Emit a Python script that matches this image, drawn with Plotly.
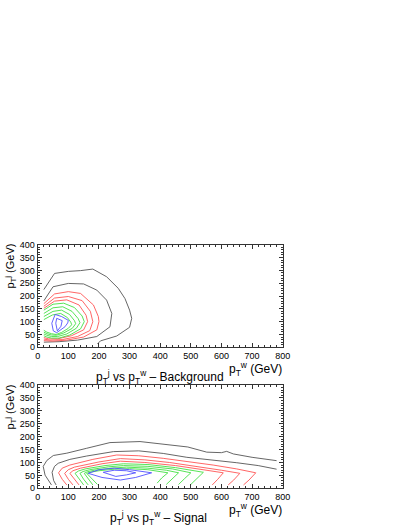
import plotly.graph_objects as go

# ---------------- axis ticks ----------------
x_tick_vals = [0, 100, 200, 300, 400, 500, 600, 700, 800]
y_tick_vals = [0, 50, 100, 150, 200, 250, 300, 350, 400]

# ---------------- Background: contour lines (pT_w [GeV], pT_j [GeV]) ----------------
bg_gray1_x = [20, 55, 100, 140, 180, 225, 263, 285, 300, 307, 300, 258, 205, 195]
bg_gray1_y = [225, 288, 296, 299, 305, 275, 230, 190, 145, 113, 78, 44, 25, 13]
bg_gray2_x = [20, 50, 100, 150, 193, 225, 242, 236, 193, 130, 70, 20]
bg_gray2_y = [181, 236, 249, 247, 223, 184, 132, 80, 42, 28, 22, 20]
bg_red1_x = [20, 55, 100, 140, 182, 198, 200, 193, 150, 95, 50, 20]
bg_red1_y = [170, 208, 217, 210, 165, 120, 100, 68, 40, 28, 24, 26]
bg_red2_x = [20, 55, 100, 145, 172, 180, 170, 130, 80, 40, 20]
bg_red2_y = [160, 192, 198, 182, 140, 100, 65, 42, 30, 28, 32]
bg_red3_x = [20, 55, 95, 135, 158, 163, 150, 110, 65, 35, 20]
bg_red3_y = [152, 180, 185, 165, 125, 100, 68, 45, 33, 33, 38]
bg_green1_x = [20, 50, 85, 120, 145, 152, 140, 105, 70, 45, 30, 20]
bg_green1_y = [145, 168, 172, 155, 122, 100, 72, 48, 36, 36, 40, 45]
bg_green2_x = [20, 50, 82, 112, 132, 138, 126, 95, 65, 45, 30, 20]
bg_green2_y = [132, 154, 158, 140, 112, 96, 74, 52, 42, 42, 47, 52]
bg_green3_x = [20, 50, 78, 104, 120, 124, 113, 85, 62, 45, 30, 20]
bg_green3_y = [120, 140, 145, 128, 104, 92, 74, 56, 47, 48, 53, 59]
bg_green4_x = [20, 48, 75, 97, 108, 111, 100, 78, 60, 45, 30, 20]
bg_green4_y = [108, 126, 132, 116, 98, 88, 74, 58, 50, 53, 59, 66]
bg_blue1_x = [57, 78, 100, 98, 89, 62, 51, 46, 57]
bg_blue1_y = [128, 120, 105, 95, 80, 57, 64, 94, 128]
bg_blue2_x = [62, 80, 76, 64, 59, 62]
bg_blue2_y = [113, 104, 82, 64, 94, 113]

# ---------------- Signal: contour lines (pT_w [GeV], pT_j [GeV]) ----------------
sg_gray1_x = [45, 38, 24, 18, 30, 51, 95, 160, 236, 334, 432, 490, 552, 600, 617, 639, 700, 780]
sg_gray1_y = [13, 25, 51, 85, 108, 127, 136, 155, 177, 181, 168, 160, 140, 138, 143, 133, 120, 107]
sg_gray2_x = [60, 52, 47, 55, 67, 105, 160, 247, 330, 410, 487, 570, 650, 720, 780]
sg_gray2_y = [13, 30, 62, 85, 97, 112, 125, 142, 145, 135, 120, 110, 99, 88, 74]
sg_red1_x = [95, 80, 68, 80, 105, 180, 258, 330, 410, 490, 573, 650, 712, 690, 672]
sg_red1_y = [13, 35, 60, 78, 90, 112, 129, 126, 116, 104, 90, 75, 60, 32, 13]
sg_red2_x = [115, 100, 88, 100, 120, 200, 270, 350, 430, 520, 600, 660, 640, 622]
sg_red2_y = [13, 35, 58, 72, 82, 102, 115, 110, 100, 85, 70, 58, 32, 13]
sg_red3_x = [135, 120, 105, 115, 140, 210, 270, 350, 450, 540, 606, 588, 570]
sg_red3_y = [13, 35, 58, 68, 78, 95, 105, 100, 88, 72, 60, 35, 13]
sg_green1_x = [150, 136, 122, 133, 155, 220, 280, 360, 450, 541, 520, 500]
sg_green1_y = [13, 35, 58, 67, 75, 88, 95, 92, 80, 62, 38, 15]
sg_green2_x = [165, 150, 138, 148, 170, 230, 280, 360, 440, 500, 480, 460]
sg_green2_y = [13, 35, 58, 65, 72, 83, 88, 85, 75, 60, 38, 15]
sg_green3_x = [180, 165, 152, 162, 185, 240, 290, 360, 420, 460, 440, 420]
sg_green3_y = [13, 35, 58, 64, 70, 78, 82, 78, 70, 60, 38, 15]
sg_green4_x = [195, 178, 160, 175, 200, 250, 300, 360, 425, 405, 390]
sg_green4_y = [15, 36, 58, 63, 68, 74, 76, 72, 60, 40, 20]
sg_blue1_x = [165, 200, 250, 300, 372, 320, 270, 210, 165]
sg_blue1_y = [58, 72, 78, 72, 60, 42, 32, 42, 58]
sg_blue2_x = [214, 250, 290, 320, 290, 255, 214]
sg_blue2_y = [62, 70, 68, 60, 52, 46, 62]

# ---------------- styles ----------------
colors = {"gray": "#555555", "red": "#ff5555", "green": "#44e044", "blue": "#5050ff"}

bg_lines = [
    (bg_gray1_x, bg_gray1_y, "gray"), (bg_gray2_x, bg_gray2_y, "gray"),
    (bg_red1_x, bg_red1_y, "red"), (bg_red2_x, bg_red2_y, "red"), (bg_red3_x, bg_red3_y, "red"),
    (bg_green1_x, bg_green1_y, "green"), (bg_green2_x, bg_green2_y, "green"),
    (bg_green3_x, bg_green3_y, "green"), (bg_green4_x, bg_green4_y, "green"),
    (bg_blue1_x, bg_blue1_y, "blue"), (bg_blue2_x, bg_blue2_y, "blue"),
]
sg_lines = [
    (sg_gray1_x, sg_gray1_y, "gray"), (sg_gray2_x, sg_gray2_y, "gray"),
    (sg_red1_x, sg_red1_y, "red"), (sg_red2_x, sg_red2_y, "red"), (sg_red3_x, sg_red3_y, "red"),
    (sg_green1_x, sg_green1_y, "green"), (sg_green2_x, sg_green2_y, "green"),
    (sg_green3_x, sg_green3_y, "green"), (sg_green4_x, sg_green4_y, "green"),
    (sg_blue1_x, sg_blue1_y, "blue"), (sg_blue2_x, sg_blue2_y, "blue"),
]

fig = go.Figure()
for xs, ys, c in bg_lines:
    fig.add_trace(go.Scatter(x=xs, y=ys, mode="lines", xaxis="x", yaxis="y",
                             line=dict(color=colors[c], width=0.9), showlegend=False,
                             hoverinfo="skip"))
for xs, ys, c in sg_lines:
    fig.add_trace(go.Scatter(x=xs, y=ys, mode="lines", xaxis="x2", yaxis="y2",
                             line=dict(color=colors[c], width=0.9), showlegend=False,
                             hoverinfo="skip"))

W, H = 407, 527
FONT = "Liberation Sans, Arial, Helvetica, sans-serif"
xl, xr = 37.7 / W, 282.7 / W
top_dom = [1 - 347.3 / H, 1 - 244.7 / H]
bot_dom = [1 - 488.3 / H, 1 - 385.0 / H]


def xaxis(dom, anchor):
    return dict(domain=dom, anchor=anchor, range=[0, 800], tickvals=x_tick_vals,
                ticks="inside", ticklen=4, tickwidth=1, tickcolor="#333",
                showline=True, linecolor="#333", linewidth=1, mirror="ticks",
                showgrid=False, zeroline=False, automargin=False,
                tickfont=dict(family=FONT, size=9, color="black"),
                minor=dict(dtick=20, ticks="inside", ticklen=2, tickcolor="#333", showgrid=False))


def yaxis(dom, anchor):
    return dict(domain=dom, anchor=anchor, range=[0, 400], tickvals=y_tick_vals,
                ticks="inside", ticklen=4, tickwidth=1, tickcolor="#333",
                showline=True, linecolor="#333", linewidth=1, mirror="ticks",
                showgrid=False, zeroline=False, automargin=False,
                tickfont=dict(family=FONT, size=9, color="black"),
                minor=dict(dtick=10, ticks="inside", ticklen=2, tickcolor="#333", showgrid=False))


fig.update_layout(
    width=W, height=H, autosize=False,
    margin=dict(l=0, r=0, t=0, b=0),
    paper_bgcolor="white", plot_bgcolor="white",
    xaxis=xaxis([xl, xr], "y"), yaxis=yaxis(top_dom, "x"),
    xaxis2=xaxis([xl, xr], "y2"), yaxis2=yaxis(bot_dom, "x2"),
)

pj = "p<sub>T</sub><sup>j</sup>"
pw = "p<sub>T</sub><sup>w</sup>"
f11 = dict(family=FONT, size=11, color="black")
f12 = dict(family=FONT, size=12, color="black")
anns = [
    # top panel
    dict(text=pj + " (GeV)", x=10 / W, y=1 - 242 / H, xanchor="center", yanchor="top", textangle=-90, font=f11),
    dict(text=pw + " (GeV)", x=284 / W, y=1 - 380 / H, xanchor="right", yanchor="bottom", font=f12),
    dict(text=pj + " vs " + pw + " \u2013 Background", x=160 / W, y=1 - 377 / H, xanchor="center", yanchor="middle", font=f12),
    # bottom panel
    dict(text=pj + " (GeV)", x=10 / W, y=1 - 383 / H, xanchor="center", yanchor="top", textangle=-90, font=f11),
    dict(text=pw + " (GeV)", x=284 / W, y=1 - 521 / H, xanchor="right", yanchor="bottom", font=f12),
    dict(text=pj + " vs " + pw + " \u2013 Signal", x=158 / W, y=1 - 518 / H, xanchor="center", yanchor="middle", font=f12),
]
for a in anns:
    a.update(xref="paper", yref="paper", showarrow=False)
fig.update_layout(annotations=anns)

fig.write_html("out.html", config={"displayModeBar": False},
               post_script="document.body.style.margin='0';document.body.style.padding='0';")
